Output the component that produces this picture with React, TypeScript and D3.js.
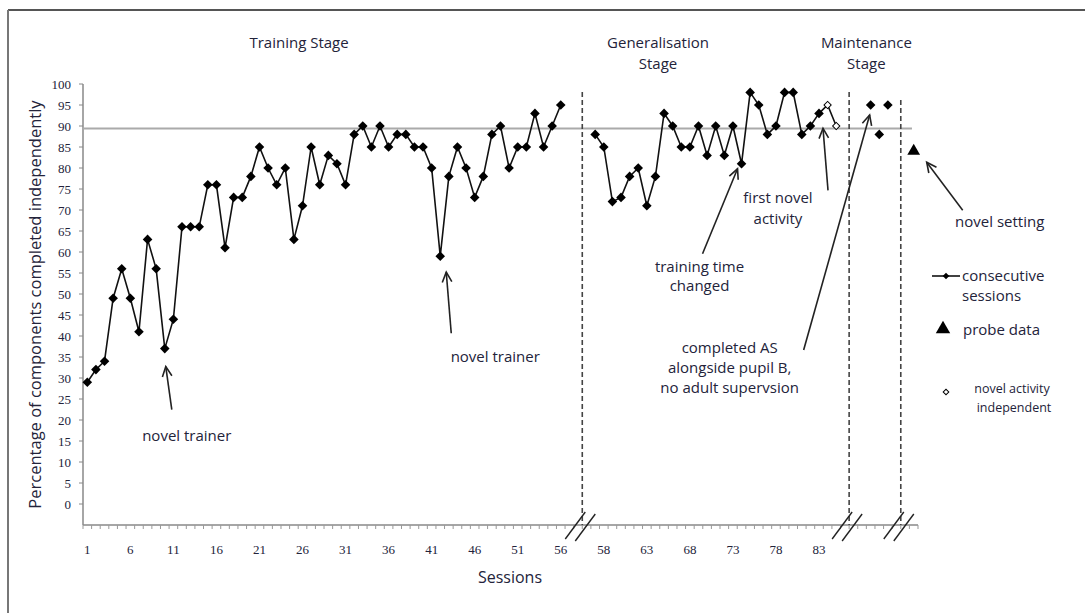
import React from "react";
import * as d3 from "d3";

// ---- data ----
const trainingValues = [
  29, 32, 34, 49, 56, 49, 41, 63, 56, 37,
  44, 66, 66, 66, 76, 76, 61, 73, 73, 78,
  85, 80, 76, 80, 63, 71, 85, 76, 83, 81,
  76, 88, 90, 85, 90, 85, 88, 88, 85, 85,
  80, 59, 78, 85, 80, 73, 78, 88, 90, 80,
  85, 85, 93, 85, 90, 95,
]; // sessions 1-56
const generalisationValues = [
  88, 85, 72, 73, 78, 80, 71, 78, 93, 90,
  85, 85, 90, 83, 90, 83, 90, 81, 98, 95,
  88, 90, 98, 98, 88, 90, 93,
]; // sessions 57-83
const novelActivityValues = [95, 90]; // sessions 84-85
const maintenanceSlots = [91, 92, 93];
const maintenanceValues = [95, 88, 95];
const probeSlots = [96];
const probeValues = [84];
const criterion = 89.4;
const xTickLabels = [1, 6, 11, 16, 21, 26, 31, 36, 41, 46, 51, 56, 58, 63, 68, 73, 78, 83];
const yTickValues = [0, 5, 10, 15, 20, 25, 30, 35, 40, 45, 50, 55, 60, 65, 70, 75, 80, 85, 90, 95, 100];
const breakSlots = [57.5, 88.5, 94.5];
const stageTitles = [
  { lines: ["Training Stage"], slot: 24.6 },
  { lines: ["Generalisation", "Stage"], slot: 66.3 },
  { lines: ["Maintenance", "Stage"], slot: 90.5 },
];

// session number -> slot on the broken category axis
const slotOf = (s: number) => (s <= 56 ? s - 1 : s + 2);

const W = 1085;
const H = 613;
const x = d3.scaleLinear().domain([-0.5, 96.5]).range([83, 918]);
const y = d3.scaleLinear().domain([-5, 100]).range([525, 84]);

const SANS = "'Open Sans', Lato, sans-serif";
const SERIF = "'Liberation Serif', 'DejaVu Serif', serif";
const TXT = "#23233a";

// square diamond (rotated square)
const diamondPath = (size: number) => d3.symbol().type(d3.symbolSquare).size(size)() ?? "";

export default function App() {
  const trainPts = trainingValues.map((v, i) => [x(slotOf(i + 1)), y(v)] as [number, number]);
  const genPts = generalisationValues.map((v, i) => [x(slotOf(57 + i)), y(v)] as [number, number]);
  const novelPts = novelActivityValues.map((v, i) => [x(slotOf(84 + i)), y(v)] as [number, number]);
  const line = d3.line();
  const lastGen = genPts[genPts.length - 1];
  const maintPts = maintenanceSlots.map((s, i) => [x(s), y(maintenanceValues[i])] as [number, number]);
  const probePts = probeSlots.map((s, i) => [x(s), y(probeValues[i])] as [number, number]);

  const boundaries = d3.range(-0.5, 97, 1);

  const arrow = (x1: number, y1: number, x2: number, y2: number, key: string) => {
    const ang = Math.atan2(y2 - y1, x2 - x1);
    const L = 11;
    const a1 = ang + Math.PI - 0.45;
    const a2 = ang + Math.PI + 0.45;
    return (
      <g key={key} stroke="#222" strokeWidth={1.6} fill="none">
        <line x1={x1} y1={y1} x2={x2} y2={y2} />
        <polyline
          points={`${x2 + L * Math.cos(a1)},${y2 + L * Math.sin(a1)} ${x2},${y2} ${x2 + L * Math.cos(a2)},${y2 + L * Math.sin(a2)}`}
        />
      </g>
    );
  };

  const p10 = trainPts[9];
  const p42 = trainPts[41];
  const p74 = genPts[74 - 57];
  const p83 = genPts[83 - 57];
  const m1 = maintPts[0];
  const pr = probePts[0];

  return (
    <svg width={W} height={H} style={{ position: "absolute", left: 0, top: 0, background: "#fff" }}>
      {/* frame */}
      <line x1={8} y1={10} x2={W} y2={10} stroke="#555" strokeWidth={2} />
      <line x1={8} y1={10} x2={8} y2={H} stroke="#777" strokeWidth={2} />

      {/* stage titles */}
      {stageTitles.map((t, i) => (
        <text key={i} x={x(t.slot)} y={48} textAnchor="middle" fontFamily={SANS} fontSize={15} fill={TXT}>
          {t.lines.map((l, j) => (
            <tspan key={j} x={x(t.slot)} dy={j === 0 ? 0 : 21}>{l}</tspan>
          ))}
        </text>
      ))}

      {/* axes */}
      <line x1={x(-0.5)} y1={y(-5)} x2={x(-0.5)} y2={y(100)} stroke="#888" strokeWidth={1.5} />
      <line x1={x(-0.5)} y1={y(-5)} x2={x(96.5)} y2={y(-5)} stroke="#888" strokeWidth={1.5} />
      {yTickValues.map((v) => (
        <g key={v}>
          <line x1={x(-0.5) - 4} x2={x(-0.5)} y1={y(v)} y2={y(v)} stroke="#888" />
          <text x={71} y={y(v)} dy="0.35em" textAnchor="end" fontFamily={SERIF} fontSize={13} fill={TXT}>{v}</text>
        </g>
      ))}
      {boundaries.map((b) => (
        <line key={b} x1={x(b)} x2={x(b)} y1={y(-5)} y2={y(-5) + 4} stroke="#999" />
      ))}
      {xTickLabels.map((s) => (
        <text key={s} x={x(slotOf(s))} y={554} textAnchor="middle" fontFamily={SERIF} fontSize={13} fill={TXT}>{s}</text>
      ))}
      <text x={510} y={583} textAnchor="middle" fontFamily={SANS} fontSize={16} fill={TXT}>Sessions</text>
      <text transform={`translate(41,${y(47.5)}) rotate(-90)`} textAnchor="middle" fontFamily={SANS} fontSize={16.5} fill={TXT}>
        Percentage of components completed independently
      </text>

      {/* criterion line */}
      <line x1={x(-0.5)} x2={x(95.8)} y1={y(criterion)} y2={y(criterion)} stroke="#aaa" strokeWidth={2} />

      {/* phase change lines */}
      {breakSlots.map((b, i) => (
        <line key={i} x1={x(b)} x2={x(b)} y1={i === 2 ? 100 : 92} y2={y(-5)} stroke="#444" strokeWidth={1.6} strokeDasharray="5,3" />
      ))}
      {/* axis break marks */}
      {breakSlots.map((b, i) => (
        <g key={i} stroke="#222" strokeWidth={1.4}>
          <line x1={x(b) - 17} y1={y(-5) + 14} x2={x(b) + 3} y2={y(-5) - 13} />
          <line x1={x(b) - 7} y1={y(-5) + 16} x2={x(b) + 13} y2={y(-5) - 11} />
        </g>
      ))}

      {/* series */}
      <path d={line(trainPts) ?? ""} fill="none" stroke="#111" strokeWidth={1.6} />
      <path d={line(genPts) ?? ""} fill="none" stroke="#111" strokeWidth={1.6} />
      <path d={line([lastGen, ...novelPts]) ?? ""} fill="none" stroke="#111" strokeWidth={1.6} />
      {[...trainPts, ...genPts, ...maintPts].map((p, i) => (
        <path key={i} transform={`translate(${p[0]},${p[1]}) rotate(45)`} d={diamondPath(46)} fill="#000" />
      ))}
      {novelPts.map((p, i) => (
        <path key={i} transform={`translate(${p[0]},${p[1]}) rotate(45)`} d={diamondPath(26)} fill="#fff" stroke="#000" strokeWidth={1} />
      ))}
      {probePts.map((p, i) => (
        <path key={i} transform={`translate(${p[0]},${p[1]})`} d={d3.symbol().type(d3.symbolTriangle).size(70)() ?? ""} fill="#000" />
      ))}

      {/* annotations */}
      <g fontFamily={SANS} fontSize={15} fill={TXT}>
        {arrow(p10[0] + 7, p10[1] + 61, p10[0] + 1, p10[1] + 18, "a1")}
        <text x={p10[0] + 22} y={p10[1] + 92} textAnchor="middle">novel trainer</text>

        {arrow(p42[0] + 11, p42[1] + 77, p42[0] + 6, p42[1] + 16, "a2")}
        <text x={p42[0] + 55} y={p42[1] + 106} textAnchor="middle">novel trainer</text>

        {arrow(p74[0] - 39, p74[1] + 90, p74[0] - 4, p74[1] + 5, "a3")}
        <text x={p74[0] - 42} y={p74[1] + 108} textAnchor="middle">
          <tspan x={p74[0] - 42}>training time</tspan>
          <tspan x={p74[0] - 42} dy={19}>changed</tspan>
        </text>

        {arrow(p83[0] + 9, p83[1] + 77, p83[0] + 4, p83[1] + 15, "a4")}
        <text x={p83[0] - 41} y={p83[1] + 90} textAnchor="middle">
          <tspan x={p83[0] - 41}>first novel</tspan>
          <tspan x={p83[0] - 41} dy={21}>activity</tspan>
        </text>

        {arrow(m1[0] - 67, m1[1] + 245, m1[0] - 1, m1[1] + 10, "a5")}
        <text x={m1[0] - 141} y={m1[1] + 248} textAnchor="middle">
          <tspan x={m1[0] - 141}>completed AS</tspan>
          <tspan x={m1[0] - 141} dy={20}>alongside pupil B,</tspan>
          <tspan x={m1[0] - 141} dy={20}>no adult supervsion</tspan>
        </text>

        {arrow(pr[0] + 49, pr[1] + 59, pr[0] + 13, pr[1] + 11, "a6")}
        <text x={pr[0] + 86} y={pr[1] + 76} textAnchor="middle">novel setting</text>
      </g>

      {/* legend */}
      <g fontFamily={SANS} fill={TXT}>
        <line x1={932} x2={960} y1={276} y2={276} stroke="#111" strokeWidth={1.6} />
        <path transform="translate(946,276) rotate(45)" d={diamondPath(22)} fill="#000" />
        <text x={962} y={276} dy="0.35em" fontSize={15}>
          <tspan x={962}>consecutive</tspan>
          <tspan x={962} dy={20}>sessions</tspan>
        </text>
        <path transform="translate(943,329)" d={d3.symbol().type(d3.symbolTriangle).size(90)() ?? ""} fill="#000" />
        <text x={963} y={330} dy="0.35em" fontSize={15}>probe data</text>
        <path transform="translate(946,392) rotate(45)" d={diamondPath(16)} fill="#fff" stroke="#000" strokeWidth={1} />
        <text x={1012} y={389} dy="0.35em" fontSize={12.5} textAnchor="middle">
          <tspan x={1012}>novel activity</tspan>
          <tspan x={1014} dy={19}>independent</tspan>
        </text>
      </g>
    </svg>
  );
}
